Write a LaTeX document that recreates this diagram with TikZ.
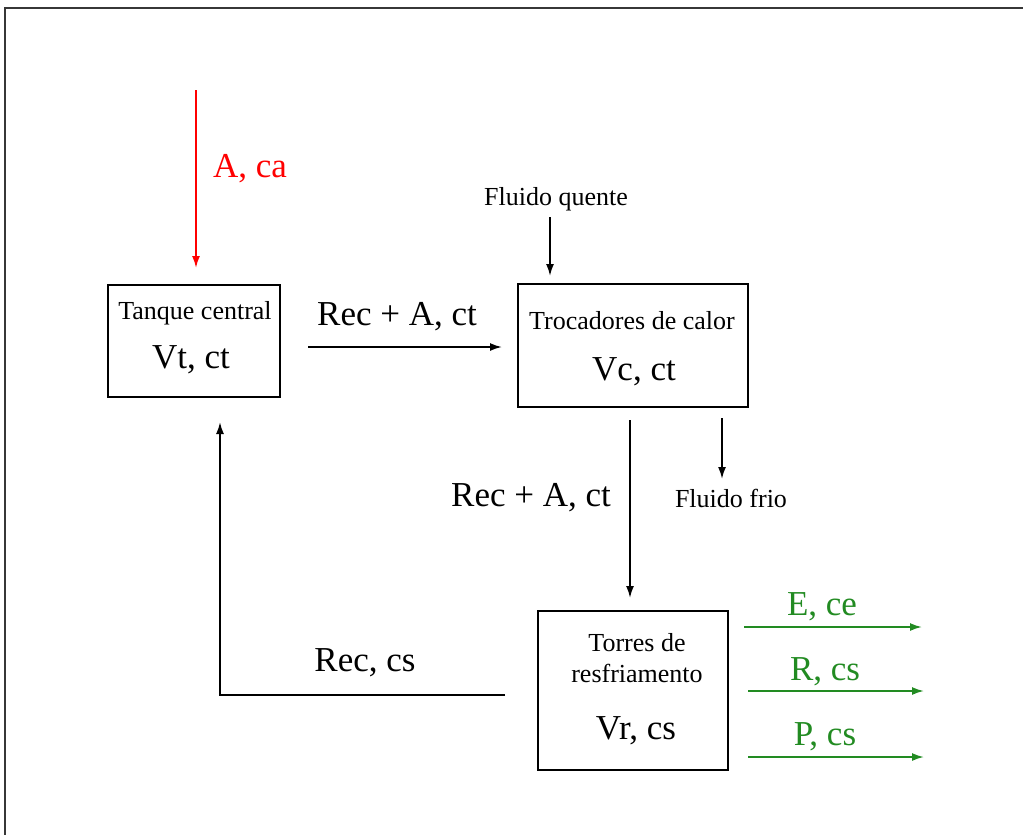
\documentclass[tikz,border=0pt]{standalone}
\usepackage{fontspec}
\setmainfont{Liberation Serif}
\usetikzlibrary{arrows.meta}
\definecolor{fgreen}{RGB}{34,139,34}
\definecolor{framecol}{RGB}{55,55,55}
\begin{document}
\begin{tikzpicture}[x=1pt,y=-1pt,
  box/.style={draw,line width=1.8pt,inner sep=0pt,outer sep=0pt},
  small/.style={font=\fontsize{26}{30}\selectfont,inner sep=0pt},
  big/.style={font=\fontsize{35}{40}\selectfont,inner sep=0pt},
  flow/.style={line width=1.8pt,-{Latex[length=12pt,width=8pt]}}]
\useasboundingbox (0,0) rectangle (1023,835);
\draw[framecol,line width=2.5pt] (5,835) -- (5,8) -- (1023,8);

% boxes
\node[box,minimum width=172pt,minimum height=112pt] (tanque) at (194,341) {};
\node[box,minimum width=230pt,minimum height=123pt] (troc) at (633,345.5) {};
\node[box,minimum width=190pt,minimum height=159pt] (torres) at (633,690.5) {};

% box texts
\node[small] (tq1) at (195,313) {Tanque central};
\node[big] (tq2) at (191,360) {Vt, ct};
\node[small] (tc1) at (632,321) {Trocadores de calor};
\node[big] (tc2) at (634,372) {Vc, ct};
\node[small] (tr1) at (637,643) {Torres de};
\node[small] (tr2) at (637,673) {resfriamento};
\node[big] (tr3) at (636,731) {Vr, cs};

% coordinates for connector ends
\coordinate (aS) at (196,90);
\coordinate (aE) at (196,268);
\coordinate (r1S) at (308,347);
\coordinate (r1E) at (502,347);
\coordinate (fqS) at (550,217);
\coordinate (fqE) at (550,276);
\coordinate (r2S) at (630,420);
\coordinate (r2E) at (630,598);
\coordinate (ffS) at (722,418);
\coordinate (ffE) at (722,479);
\coordinate (rcS) at (505,695);
\coordinate (rcC) at (220,695);
\coordinate (rcE) at (220,422);
\coordinate (eS) at (744,627);
\coordinate (eE) at (922,627);
\coordinate (rS) at (748,691);
\coordinate (rE) at (924,691);
\coordinate (pS) at (748,757);
\coordinate (pE) at (924,757);

% connectors
\draw[flow,red] (aS) -- (aE);
\node[big,red] (la) at (250,169) {A, ca};
\draw[flow] (r1S) -- (r1E);
\node[big] (lr1) at (397,317) {Rec + A, ct};
\node[small] (lfq) at (556,199) {Fluido quente};
\draw[flow] (fqS) -- (fqE);
\draw[flow] (r2S) -- (r2E);
\node[big] (lr2) at (531,498) {Rec + A, ct};
\draw[flow] (ffS) -- (ffE);
\node[small] (lff) at (731,498) {Fluido frio};
\draw[flow] (rcS) -- (rcC) -- (rcE);
\node[big] (lrc) at (365,663) {Rec, cs};
\draw[flow,fgreen] (eS) -- (eE);
\node[big,fgreen] (le) at (822,607) {E, ce};
\draw[flow,fgreen] (rS) -- (rE);
\node[big,fgreen] (lr) at (825,672) {R, cs};
\draw[flow,fgreen] (pS) -- (pE);
\node[big,fgreen] (lp) at (825,737) {P, cs};
\end{tikzpicture}
\end{document}
